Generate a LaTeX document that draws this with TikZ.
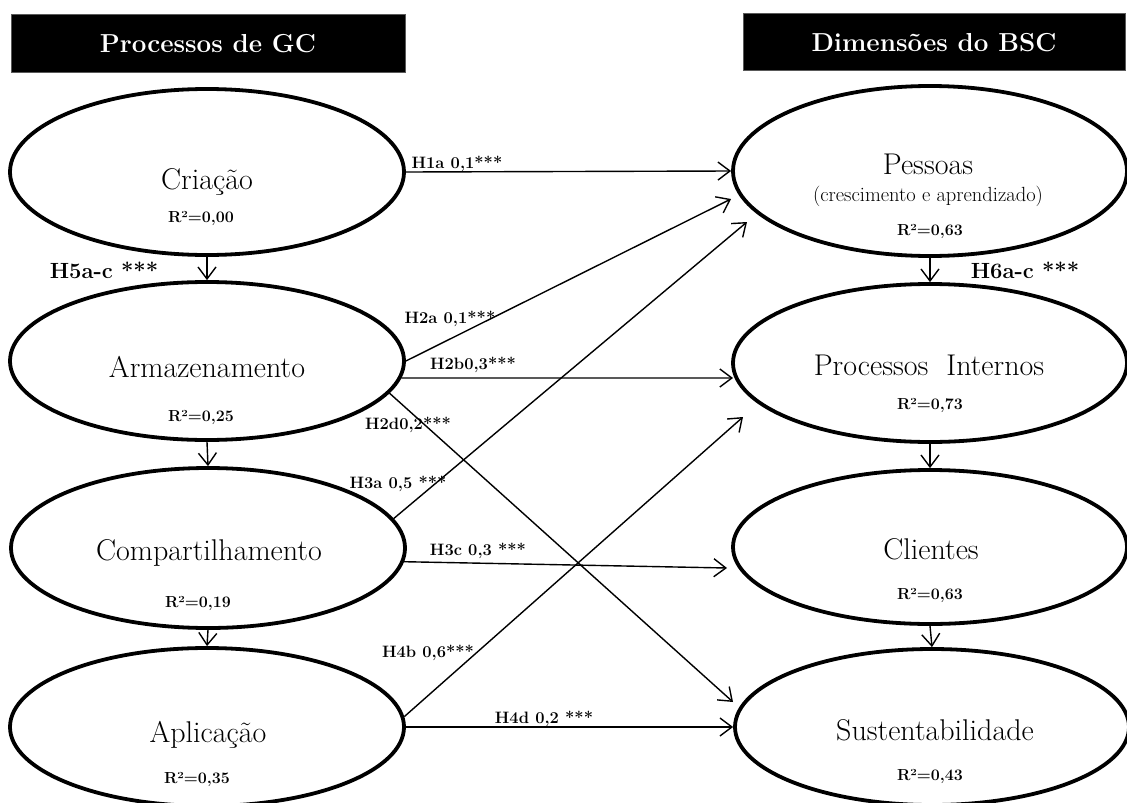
\documentclass[tikz,border=0pt]{standalone}
\usepackage{fontspec}
\usetikzlibrary{shapes.geometric,arrows.meta,calc}

\begin{document}
\begin{tikzpicture}[x=1pt,y=-1pt,
  construct/.style={draw, line width=3.8pt, ellipse, minimum width=394pt, inner sep=0pt},
  link/.style={draw, line width=1.4pt, -{Straight Barb[length=12pt,width=18pt,line width=1.4pt]}},
  cname/.style={font=\fontsize{30}{36}\selectfont, anchor=base, inner sep=0pt},
  csub/.style={font=\fontsize{20.5}{24}\selectfont, anchor=base, inner sep=0pt},
  rsq/.style={font=\bfseries\fontsize{16}{20}\selectfont, anchor=base, inner sep=0pt},
  hyp/.style={font=\bfseries\fontsize{16.5}{20}\selectfont, anchor=base, inner sep=0pt},
  hypbig/.style={font=\bfseries\fontsize{22}{26}\selectfont, anchor=base, inner sep=0pt},
  header/.style={fill=black, draw=black!65, line width=0.8pt, text=white,
    font=\bfseries\fontsize{26}{30}\selectfont, text height=19pt, text depth=0pt}]

\useasboundingbox (0,0) rectangle (1127,803);

% column headers
\node[header, minimum width=394pt, minimum height=58pt] (hgc) at (208,43) {Processos de GC};
\node[header, minimum width=382pt, minimum height=57pt] (hbsc) at (934,41.5) {Dimensões do BSC};

% knowledge management processes
\node[construct, minimum height=166pt] (cri) at (207,172) {};
\node[construct, minimum height=158pt] (arm) at (207,361) {};
\node[construct, minimum height=160pt] (com) at (208,548) {};
\node[construct, minimum height=158pt] (apl) at (207,727) {};

% BSC dimensions
\node[construct, minimum height=170pt] (pes) at (930,171) {};
\node[construct, minimum height=158pt] (pro) at (930,363) {};
\node[construct, minimum height=154pt] (cli) at (930,547) {};
\node[construct, minimum height=156pt] (sus) at (932,727) {};

% construct names and R-squared values
\node[cname] (criT) at (207,189) {Criação};
\node[rsq]   (criR) at (201,222) {R²=0,00};
\node[cname] (armT) at (207,377) {Armazenamento};
\node[rsq]   (armR) at (201,421) {R²=0,25};
\node[cname] (comT) at (209,560) {Compartilhamento};
\node[rsq]   (comR) at (198,607) {R²=0,19};
\node[cname] (aplT) at (208,742) {Aplicação};
\node[rsq]   (aplR) at (197,783) {R²=0,35};

\node[cname] (pesT) at (928,174) {Pessoas};
\node[csub]  (pesS) at (928,201) {(crescimento e aprendizado)};
\node[rsq]   (pesR) at (930,235) {R²=0,63};
\node[cname] (proT) at (929,375) {Processos\ \ Internos};
\node[rsq]   (proR) at (930,409) {R²=0,73};
\node[cname] (cliT) at (931,559) {Clientes};
\node[rsq]   (cliR) at (930,599) {R²=0,63};
\node[cname] (susT) at (935,740) {Sustentabilidade};
\node[rsq]   (susR) at (930,780) {R²=0,43};

% chains within each column
\draw[link] (cri.south) -- (arm.north);
\draw[link] (arm.south) -- (com.north);
\draw[link] (com.south) -- (apl.north);
\draw[link] (pes.south) -- (pro.north);
\draw[link] (pro.south) -- (cli.north);
\draw[link] (cli.south) -- (sus.north);

% paths from processes to dimensions
\draw[link] (cri.east) -- (pes.west);
\draw[link] (arm.east) -- ($(pes.center)+(-199,28)$);
\draw[link] (arm.355) -- ($(pro.center)+(-197,15)$);
\draw[link] (arm.350) -- ($(sus.center)+(-199,-25)$);
\draw[link] (com.9) -- ($(pes.center)+(-183,51)$);
\draw[link] (com.356) -- ($(cli.center)+(-203,21)$);
\draw[link] (apl.3) -- ($(pro.center)+(-187,54)$);
\draw[link] (apl.east) -- (sus.west);

% path coefficients
\node[hypbig] (l5) at (104,278) {H5a-c ***};
\node[hypbig] (l6) at (1025,278) {H6a-c ***};
\node[hyp] (l1a) at (457,168) {H1a 0,1***};
\node[hyp] (l2a) at (450,323) {H2a 0,1***};
\node[hyp] (l2b) at (473,369) {H2b0,3***};
\node[hyp] (l2d) at (408,429) {H2d0,2***};
\node[hyp] (l3a) at (398,488) {H3a 0,5 ***};
\node[hyp] (l3c) at (478,555) {H3c 0,3 ***};
\node[hyp] (l4b) at (428,657) {H4b 0,6***};
\node[hyp] (l4d) at (544,723) {H4d 0,2 ***};
\end{tikzpicture}
\end{document}
